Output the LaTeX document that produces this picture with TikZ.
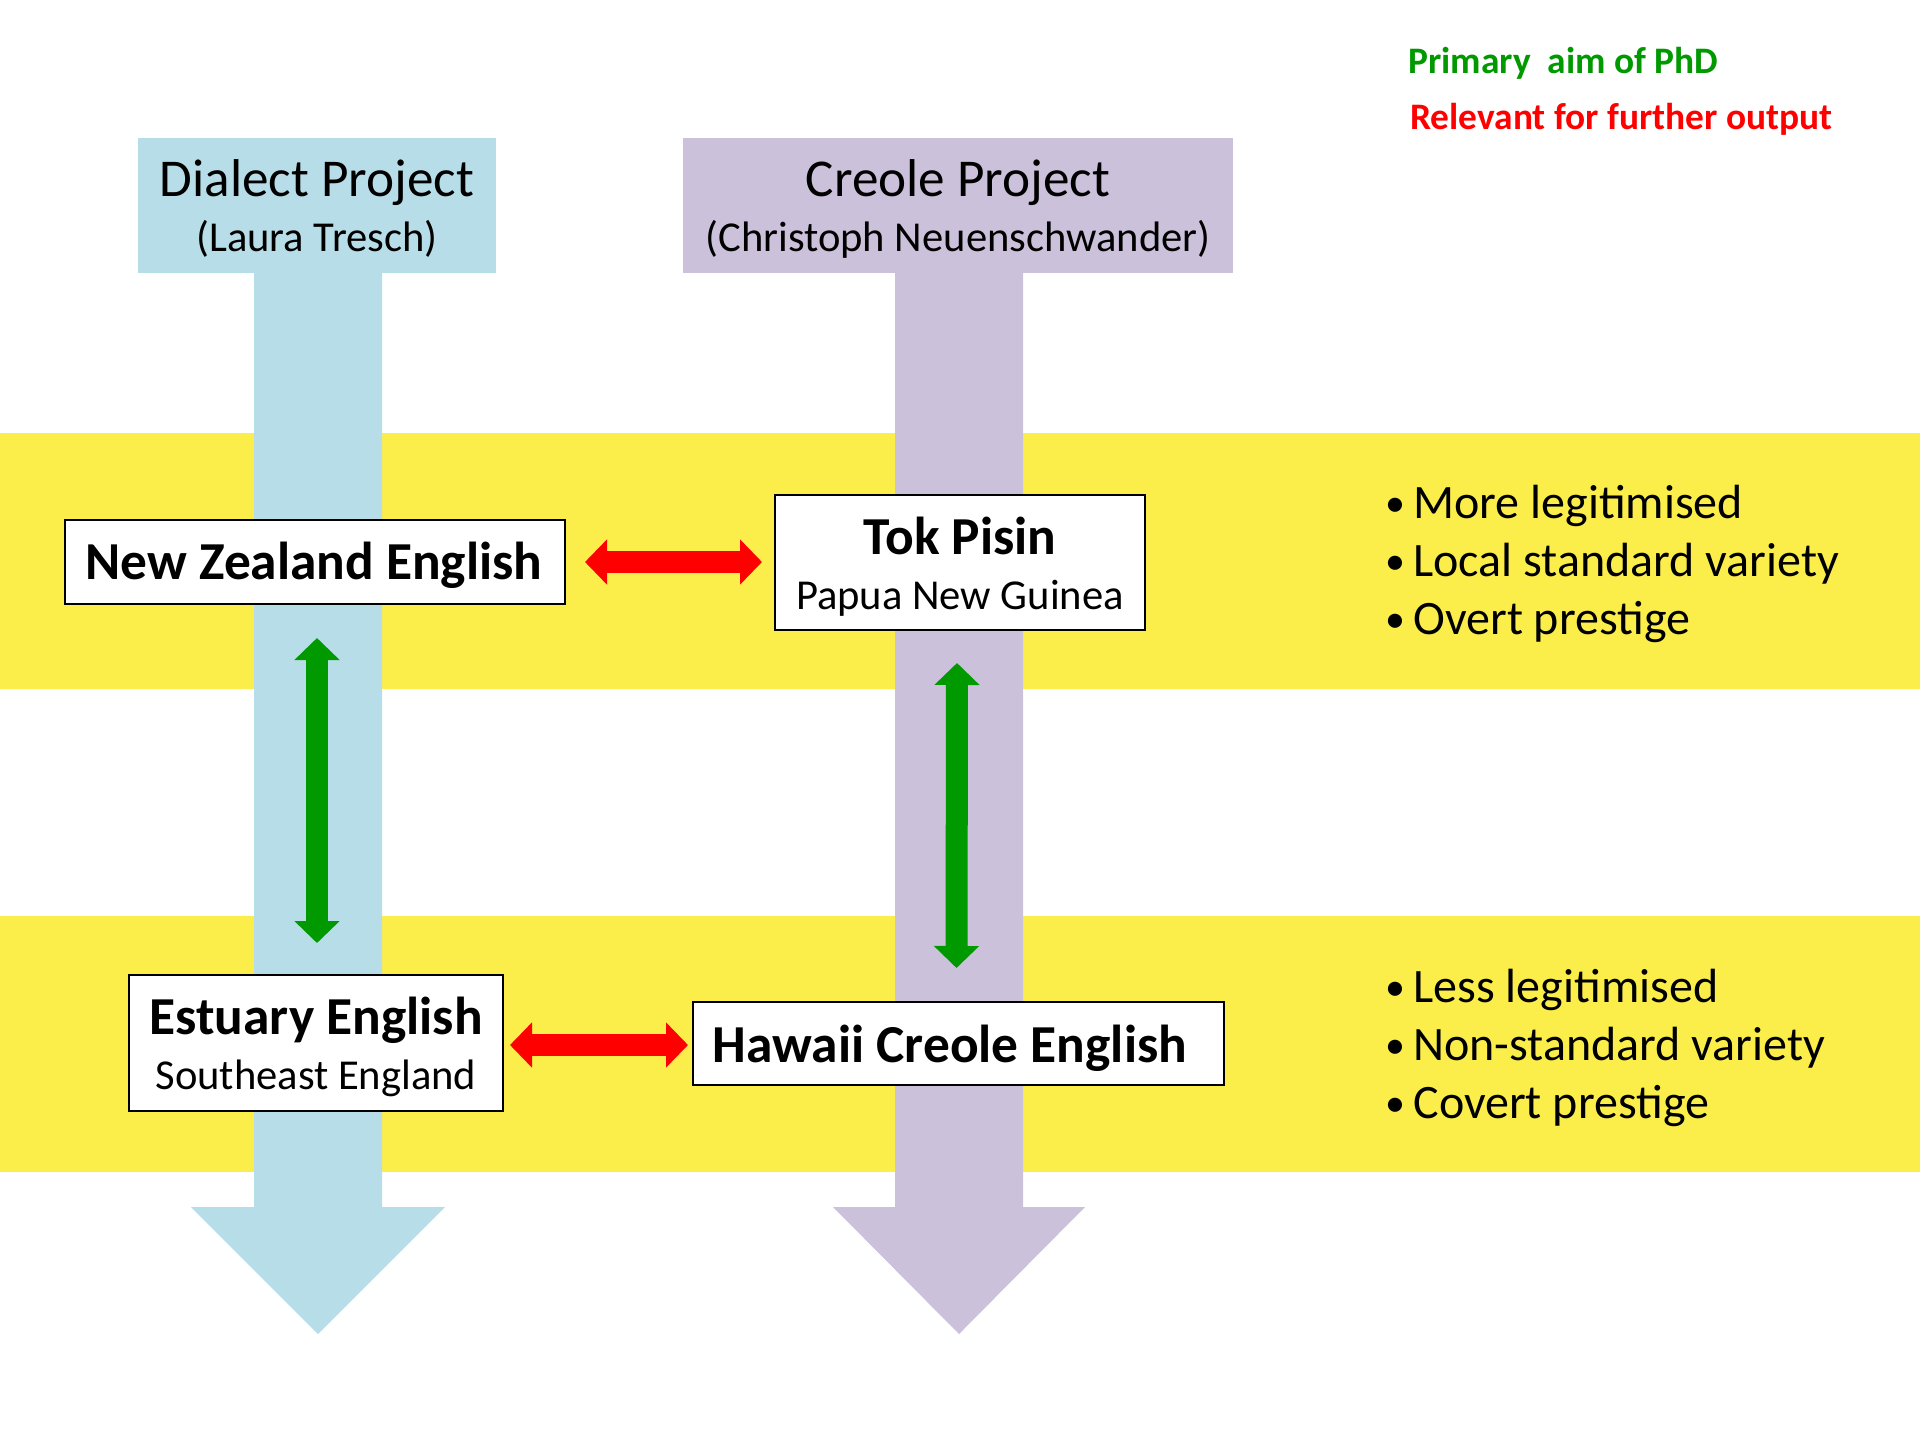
\documentclass[tikz,border=0pt]{standalone}
\usepackage{fontspec}
\setmainfont{Carlito}
\usetikzlibrary{arrows.meta,calc}
\definecolor{ylw}{RGB}{252,238,74}
\definecolor{blu}{RGB}{183,222,232}
\definecolor{pur}{RGB}{204,193,218}
\definecolor{grn}{RGB}{0,153,0}
\definecolor{rd}{RGB}{255,0,0}
\tikzset{
  box/.style={draw=black, line width=1pt, fill=white, inner sep=0pt},
  txt/.style={inner sep=0pt, anchor=base},
  ltxt/.style={inner sep=0pt, anchor=base west},
  hdbig/.style={font=\fontsize{26.6}{30}\selectfont},
  hdsub/.style={font=\fontsize{21.3}{25}\selectfont},
  namebig/.style={font=\fontsize{26.7}{30}\selectfont\bfseries},
  bul/.style={ltxt, font=\fontsize{24}{28}\selectfont},
  legend/.style={ltxt, font=\fontsize{18.7}{22}\selectfont\bfseries},
  dbl/.style={line width=11pt, {Triangle[width=22pt,length=11pt]}-{Triangle[width=22pt,length=11pt]}},
  redarr/.style={dbl, draw=rd},
  grnarr/.style={dbl, draw=grn}
}
\newcommand{\bl}[1]{\makebox[14pt][l]{\raisebox{1pt}{\fontsize{20}{24}\selectfont•}}#1}
\begin{document}
\begin{tikzpicture}[x=0.5pt,y=-0.5pt]
\fill[white] (0,0) rectangle (1920,1440);
\useasboundingbox (0,0) rectangle (1920,1440);
% yellow bands
\fill[ylw] (0,433) rectangle (1920,689);
\fill[ylw] (0,916) rectangle (1920,1172);
% dialect column
\fill[blu] (138,138) rectangle (496,273);
\fill[blu] (254,272) -- (382,272) -- (382,1207) -- (445,1207) -- (318,1334) -- (191,1207) -- (254,1207) -- cycle;
% creole column
\fill[pur] (683,138) rectangle (1233,273);
\fill[pur] (895,272) -- (1023,272) -- (1023,1207) -- (1085,1207) -- (959,1334) -- (833,1207) -- (895,1207) -- cycle;
% header texts
\node[txt, hdbig] (dh1) at (317,196) {Dialect Project};
\node[txt, hdsub] (dh2) at (317,251) {(Laura Tresch)};
\node[txt, hdbig] (ch1) at (958,196) {Creole Project};
\node[txt, hdsub] (ch2) at (958,251) {(Christoph Neuenschwander)};
% boxes
\node[box, minimum width=250pt, minimum height=42pt] (nze) at (315,562) {};
\node[txt, namebig] (nzet) at (314,579) {New Zealand English};
\node[box, minimum width=185pt, minimum height=67.5pt] (tok) at (960,562.5) {};
\node[txt, namebig] (tokt) at (960,554) {Tok Pisin};
\node[txt, hdsub] (toks) at (960,609) {Papua New Guinea};
\node[box, minimum width=187pt, minimum height=68pt] (est) at (316,1043) {};
\node[txt, namebig] (estt) at (316,1034) {Estuary English};
\node[txt, hdsub] (ests) at (316,1089) {Southeast England};
\node[box, minimum width=265.5pt, minimum height=41.5pt] (haw) at (958.5,1043.5) {};
\node[txt, namebig] (hawt) at (950,1062) {Hawaii Creole English};
% connectors
\draw[redarr] ($(nze.east)+(19,0)$) -- ($(tok.west |- nze.east)+(-12,0)$);
\draw[redarr] ($(est.east)+(6,2)$) -- ($(haw.west |- est.east)+(-4,2)$);
\draw[grnarr] ($(nze.south)+(2,33)$) -- ($(est.north)+(1,-31)$);
\draw[grnarr] ($(tok.south)+(-3,32)$) -- ($(haw.north)+(-2,-33)$);
% bullets
\node[bul] (b1) at (1385,518) {\bl{More legitimised}};
\node[bul] (b2) at (1385,576) {\bl{Local standard variety}};
\node[bul] (b3) at (1385,634) {\bl{Overt prestige}};
\node[bul] (b4) at (1385,1002) {\bl{Less legitimised}};
\node[bul] (b5) at (1385,1060) {\bl{Non-standard variety}};
\node[bul] (b6) at (1385,1118) {\bl{Covert prestige}};
% legend
\node[legend, text=grn] (lg1) at (1408,73) {Primary\ \ aim of PhD};
\node[legend, text=rd] (lg2) at (1410,129) {Relevant for further output};
\end{tikzpicture}
\end{document}
